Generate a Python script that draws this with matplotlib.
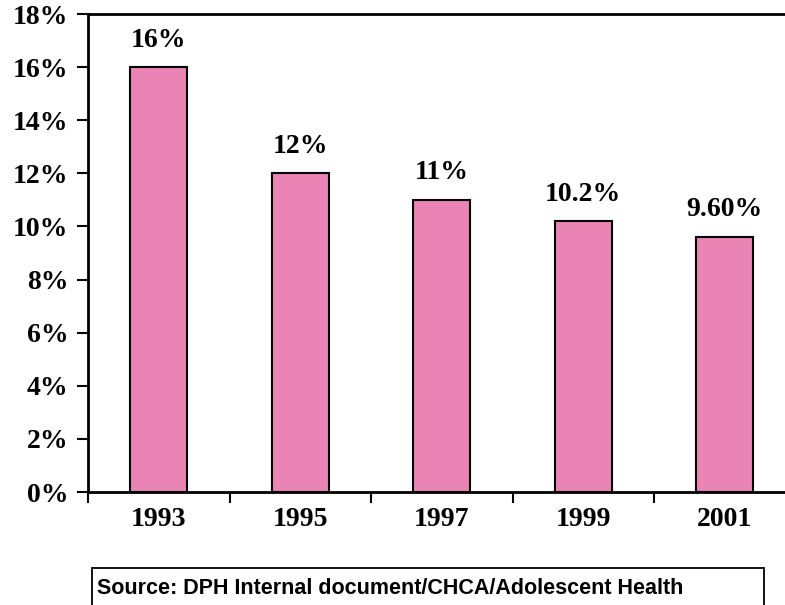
import matplotlib
matplotlib.use("Agg")
import matplotlib.pyplot as plt
from matplotlib.patches import Rectangle

# teen pregnancy rates by survey year
years = ["1993", "1995", "1997", "1999", "2001"]
rates = [16, 12, 11, 10.2, 9.6]
rate_labels = ["16%", "12%", "11%", "10.2%", "9.60%"]
y_ticks = [0, 2, 4, 6, 8, 10, 12, 14, 16, 18]

W, H = 785, 605
fig = plt.figure(figsize=(W / 100, H / 100), dpi=100)

# axes box in pixels: left 88, top 14, bottom 492, one slot = 141.5 px
left, top, bottom, slot = 88, 14, 492, 141.5
ax = fig.add_axes([left / W, (H - bottom) / H, 5 * slot / W, (bottom - top) / H])

serif = {"family": "Liberation Serif", "weight": "bold"}
fs = 20

x = range(len(years))
ax.bar(x, rates, width=0.4, color="#E984B5", edgecolor="black", linewidth=1.5, zorder=2)

for xi, v, lab in zip(x, rates, rate_labels):
    ax.text(xi, v + 0.55, lab, ha="center", va="bottom", fontsize=fs, **serif)

ax.set_xlim(-0.5, len(years) - 0.5)
ax.set_ylim(0, 18)
ax.set_yticks(y_ticks)
ax.set_yticklabels([f"{t}%" for t in y_ticks], fontdict=serif, fontsize=fs)

# year labels sit in the middle, tick marks on the slot boundaries
ax.set_xticks([i - 0.5 for i in range(len(years) + 1)])
ax.set_xticklabels([])
ax.set_xticks(list(x), minor=True)
ax.set_xticklabels(years, minor=True, fontdict=serif, fontsize=fs)
ax.tick_params(axis="x", which="minor", length=0, pad=11)
ax.tick_params(axis="x", which="major", length=8, width=1.5, direction="out")
ax.tick_params(axis="y", length=8, width=1.5, direction="out", pad=6)

for side in ["left", "top", "bottom"]:
    ax.spines[side].set_linewidth(2)
ax.spines["right"].set_visible(False)

# source note box
fig.patches.append(Rectangle((92 / W, -0.05), (764 - 92) / W, 0.05 + (H - 568) / H,
                             transform=fig.transFigure, fill=False,
                             edgecolor="black", linewidth=1.3))
fig.text(97 / W, (H - 589) / H, "Source: DPH Internal document/CHCA/Adolescent Health",
         family="Liberation Sans", weight="bold", fontsize=15.5, va="center", ha="left")

fig.savefig("out.png", dpi=100)
